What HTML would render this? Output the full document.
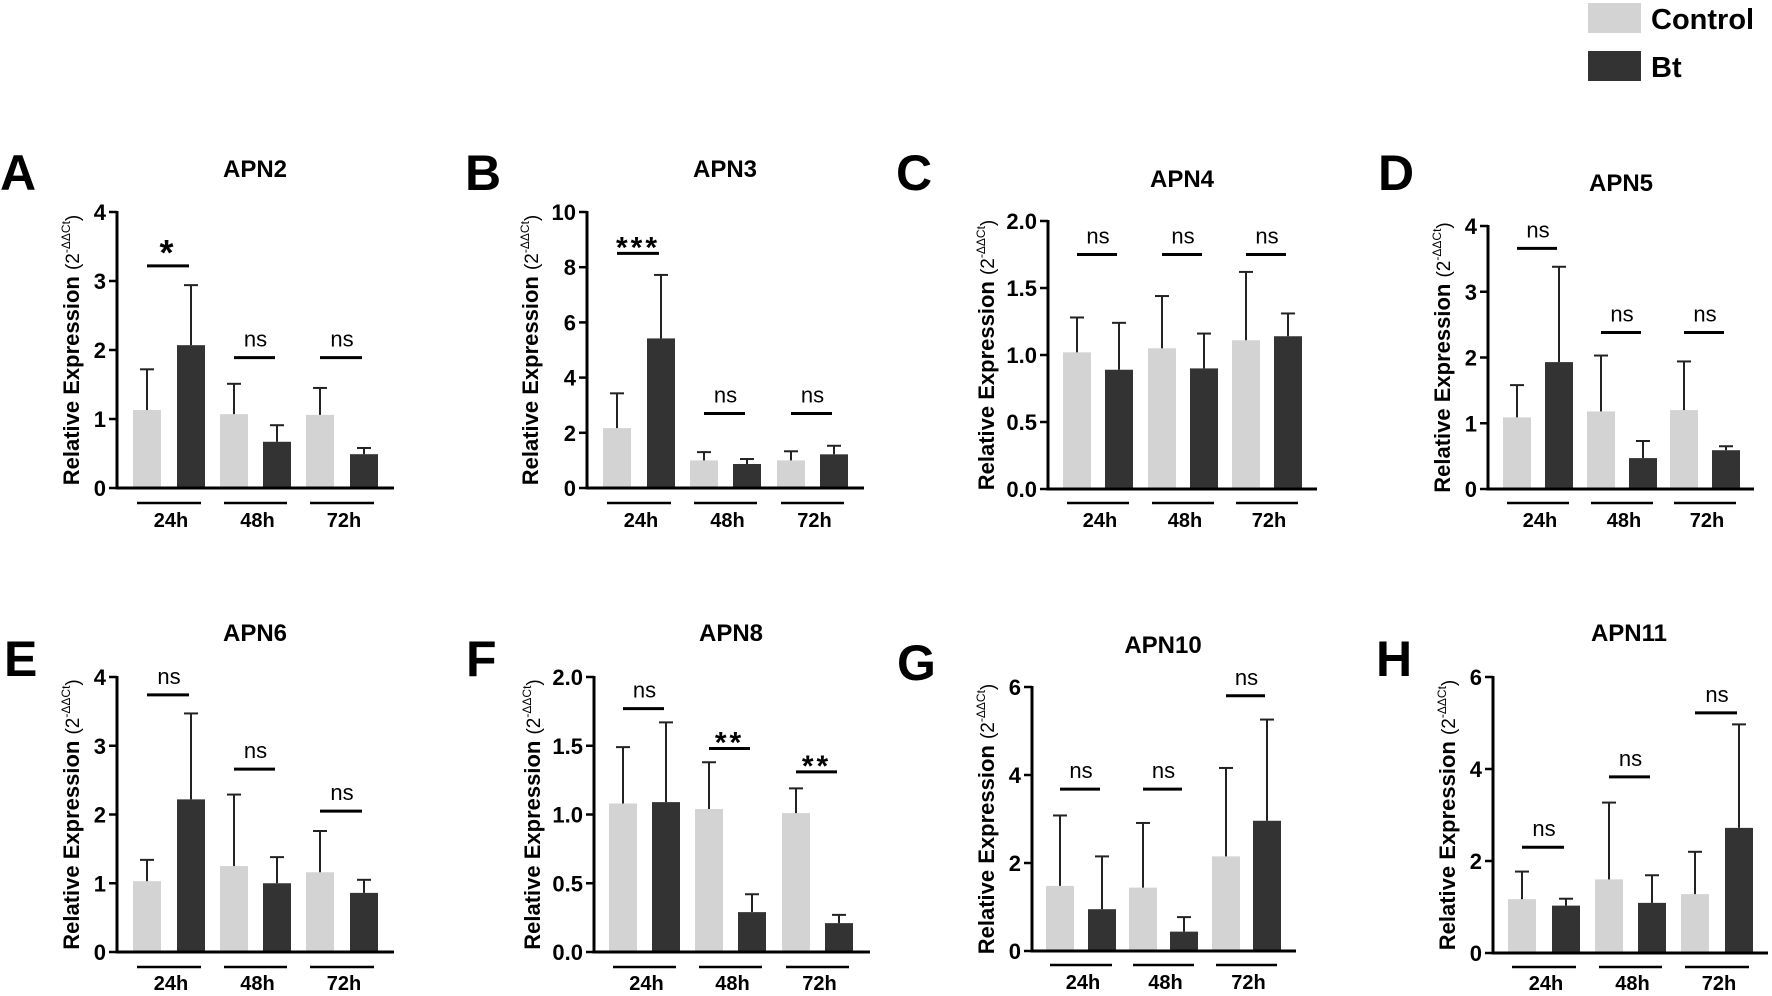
<!DOCTYPE html>
<html><head><meta charset="utf-8">
<style>
html,body{margin:0;padding:0;background:#fff;}
svg{display:block;font-family:"Liberation Sans",Arial,sans-serif;}
</style></head>
<body>
<svg id="s" width="1772" height="996" xmlns="http://www.w3.org/2000/svg">
<rect x="1588" y="3" width="53" height="30" fill="#d3d3d3"/>
<rect x="1588" y="51" width="53" height="30" fill="#333"/>
<text x="1651" y="29" font-size="29" font-weight="bold">Control</text>
<text x="1651" y="77" font-size="29" font-weight="bold">Bt</text>
</svg>
<script>
var P=[
{L:"A",lx:0,ly:190,t:"APN2",tx:255,ty:177,ax:117,top:212,zero:488,xe:394,b:[133,177,220,263,306,350],max:4,ticks:[0,1,2,3,4],fmt:0,
 v:[[1.13,1.72],[2.07,2.94],[1.07,1.51],[0.67,0.91],[1.06,1.45],[0.49,0.58]],sig:[["*",3.22],["ns",1.89],["ns",1.89]],gy:503,gl:527},
{L:"B",lx:465,ly:190,t:"APN3",tx:725,ty:177,ax:587,top:212,zero:488,xe:864,b:[603,647,690,733,777,820],max:10,ticks:[0,2,4,6,8,10],fmt:0,
 v:[[2.17,3.43],[5.42,7.72],[1.0,1.3],[0.87,1.05],[1.0,1.33],[1.22,1.53]],sig:[["***",8.5],["ns",2.7],["ns",2.7]],gy:503,gl:527},
{L:"C",lx:896,ly:190,t:"APN4",tx:1182,ty:187,ax:1048,top:221,zero:489,xe:1317,b:[1063,1105,1148,1190,1232,1274],max:2,ticks:[0,0.5,1,1.5,2],fmt:1,
 v:[[1.02,1.28],[0.89,1.24],[1.05,1.44],[0.90,1.16],[1.11,1.62],[1.14,1.31]],sig:[["ns",1.75],["ns",1.75],["ns",1.75]],gy:503,gl:527},
{L:"D",lx:1378,ly:190,t:"APN5",tx:1621,ty:191,ax:1488,top:226,zero:489,xe:1754,b:[1503,1545,1587,1629,1670,1712],max:4,ticks:[0,1,2,3,4],fmt:0,
 v:[[1.09,1.58],[1.93,3.38],[1.18,2.03],[0.47,0.73],[1.20,1.94],[0.59,0.65]],sig:[["ns",3.66],["ns",2.38],["ns",2.38]],gy:503,gl:527},
{L:"E",lx:4,ly:676,t:"APN6",tx:255,ty:641,ax:117,top:677,zero:952,xe:394,b:[133,177,220,263,306,350],max:4,ticks:[0,1,2,3,4],fmt:0,
 v:[[1.03,1.34],[2.22,3.47],[1.25,2.29],[1.0,1.38],[1.16,1.76],[0.86,1.05]],sig:[["ns",3.74],["ns",2.66],["ns",2.05]],gy:967,gl:990},
{L:"F",lx:466,ly:676,t:"APN8",tx:731,ty:641,ax:594,top:677,zero:952,xe:870,b:[609,652,695,738,782,825],max:2,ticks:[0,0.5,1,1.5,2],fmt:1,
 v:[[1.08,1.49],[1.09,1.67],[1.04,1.38],[0.29,0.42],[1.01,1.19],[0.21,0.27]],sig:[["ns",1.77],["**",1.48],["**",1.31]],gy:967,gl:990},
{L:"G",lx:897,ly:680,t:"APN10",tx:1163,ty:653,ax:1032,top:687,zero:951,xe:1296,b:[1046,1088,1129,1170,1212,1253],max:6,ticks:[0,2,4,6],fmt:0,
 v:[[1.48,3.08],[0.95,2.15],[1.44,2.91],[0.44,0.77],[2.15,4.16],[2.96,5.26]],sig:[["ns",3.68],["ns",3.68],["ns",5.8]],gy:965,gl:989},
{L:"H",lx:1376,ly:676,t:"APN11",tx:1629,ty:641,ax:1493,top:677,zero:953,xe:1768,b:[1508,1552,1595,1638,1681,1725],max:6,ticks:[0,2,4,6],fmt:0,
 v:[[1.17,1.77],[1.03,1.18],[1.6,3.27],[1.09,1.69],[1.28,2.2],[2.72,4.97]],sig:[["ns",2.3],["ns",3.83],["ns",5.22]],gy:967,gl:990}
];
var h='';
P.forEach(function(p){
 var sc=(p.zero-p.top)/p.max, Y=function(v){return p.zero-v*sc;}, bw=28;
 h+='<text x="'+p.lx+'" y="'+p.ly+'" font-size="50" font-weight="bold">'+p.L+'</text>';
 h+='<text x="'+p.tx+'" y="'+p.ty+'" font-size="24" font-weight="bold" text-anchor="middle">'+p.t+'</text>';
 p.v.forEach(function(d,i){
  var x=p.b[i], c=(i%2==0)?'#d3d3d3':'#333';
  h+='<rect x="'+x+'" y="'+Y(d[0])+'" width="'+bw+'" height="'+(p.zero-Y(d[0]))+'" fill="'+c+'"/>';
  var cx=x+bw/2;
  h+='<line x1="'+cx+'" y1="'+Y(d[0])+'" x2="'+cx+'" y2="'+Y(d[1])+'" stroke="#222" stroke-width="2"/>';
  h+='<line x1="'+(cx-7)+'" y1="'+Y(d[1])+'" x2="'+(cx+7)+'" y2="'+Y(d[1])+'" stroke="#222" stroke-width="2"/>';
 });
 h+='<line x1="'+p.ax+'" y1="'+(p.top-1)+'" x2="'+p.ax+'" y2="'+(p.zero+1.5)+'" stroke="#000" stroke-width="3"/>';
 h+='<line x1="'+(p.ax-1.5)+'" y1="'+p.zero+'" x2="'+p.xe+'" y2="'+p.zero+'" stroke="#000" stroke-width="3"/>';
 p.ticks.forEach(function(t){
  var y=Y(t);
  h+='<line x1="'+(p.ax-8)+'" y1="'+y+'" x2="'+p.ax+'" y2="'+y+'" stroke="#000" stroke-width="2.5"/>';
  h+='<text x="'+(p.ax-11)+'" y="'+(y+8)+'" font-size="22" font-weight="bold" text-anchor="end">'+(p.fmt?t.toFixed(1):t)+'</text>';
 });
 var my=(p.top+p.zero)/2, off=p.fmt?54:(p.max>=10?49:38), lx=p.ax-off;
 h+='<text transform="translate('+lx+','+my+') rotate(-90)" text-anchor="middle" font-size="22" font-weight="bold">Relative Expression <tspan font-weight="normal" font-size="19">(2</tspan><tspan font-weight="normal" font-size="12" dy="-9">-ΔΔCt</tspan><tspan font-weight="normal" font-size="19" dy="9">)</tspan></text>';
 var labs=["24h","48h","72h"];
 for(var g=0;g<3;g++){
  var x1=p.b[2*g]+4, x2=p.b[2*g+1]+bw-4, c1=p.b[2*g]+bw/2, c2=p.b[2*g+1]+bw/2;
  h+='<line x1="'+x1+'" y1="'+p.gy+'" x2="'+x2+'" y2="'+p.gy+'" stroke="#000" stroke-width="2.5"/>';
  h+='<text x="'+((x1+x2)/2+2)+'" y="'+p.gl+'" font-size="20" font-weight="bold" text-anchor="middle">'+labs[g]+'</text>';
  var s=p.sig[g], sy=Y(s[1]), sx1=c1, sx2=c2-2;
  h+='<line x1="'+sx1+'" y1="'+sy+'" x2="'+sx2+'" y2="'+sy+'" stroke="#000" stroke-width="3"/>';
  if(s[0]=="ns") h+='<text x="'+((sx1+sx2)/2+1)+'" y="'+(sy-11)+'" font-size="22" text-anchor="middle">ns</text>';
  else h+='<text x="'+((sx1+sx2)/2)+'" y="'+(sy+(s[0]=="*"?-1:4))+'" font-size="'+(s[0]=="*"?36:30)+'" font-weight="bold" text-anchor="middle" letter-spacing="3">'+s[0]+'</text>';
 }
});
document.getElementById('s').insertAdjacentHTML('beforeend',h);
</script>
</body></html>
